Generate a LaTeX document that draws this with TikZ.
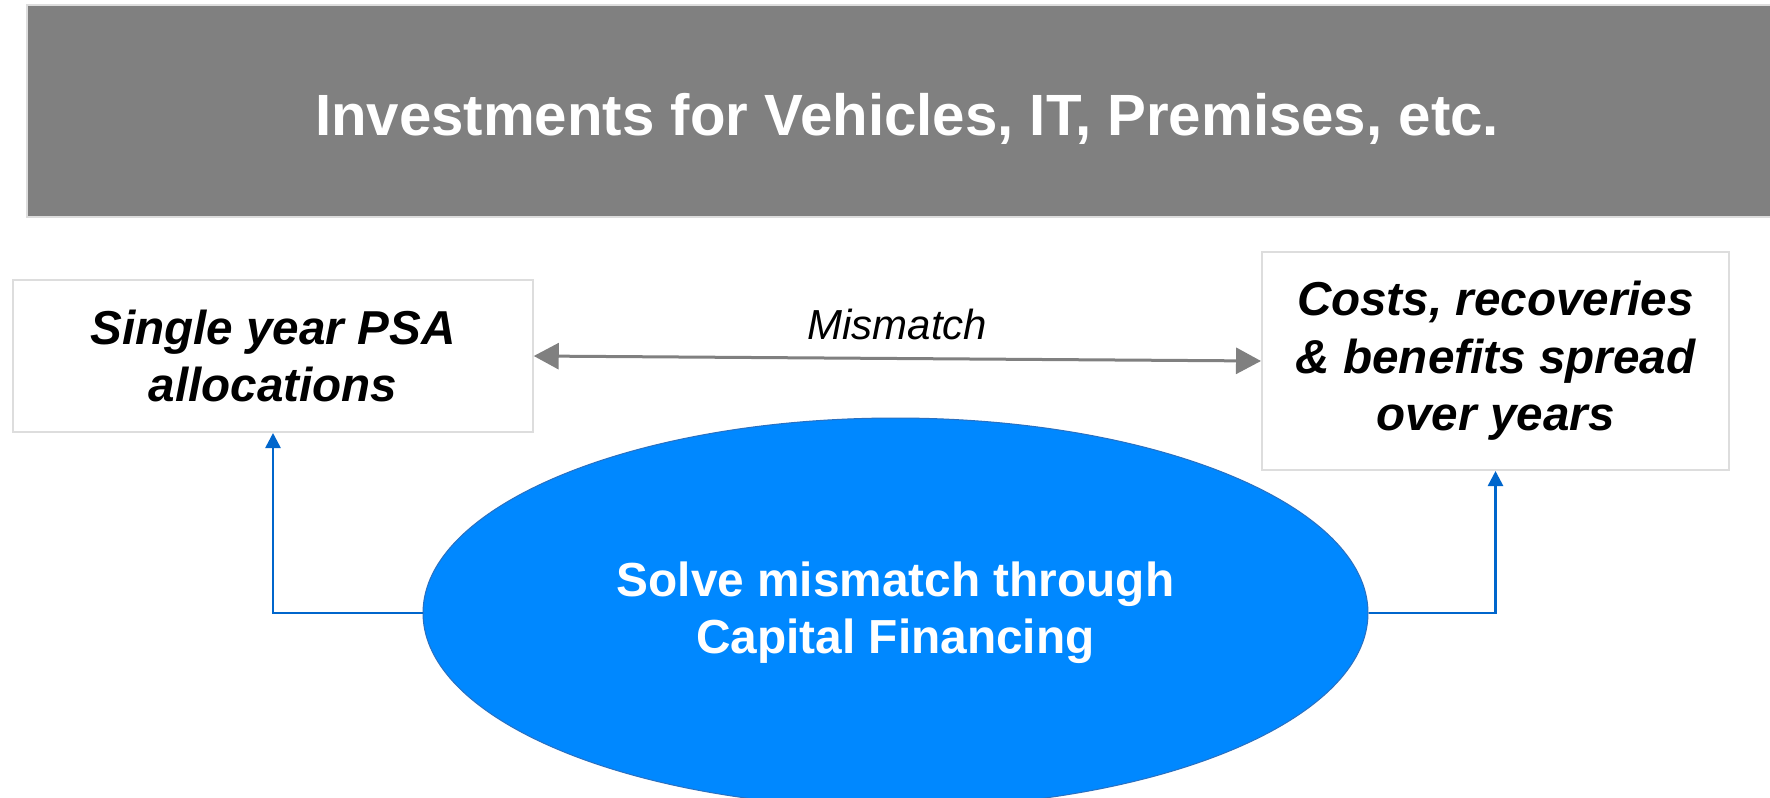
\documentclass[tikz,border=0pt]{standalone}
\usepackage{fontspec}
\setmainfont{Liberation Sans}
\usetikzlibrary{arrows.meta,shapes.geometric}
\definecolor{bannergray}{HTML}{808080}
\definecolor{edgegray}{HTML}{DDDDDD}
\definecolor{ellblue}{HTML}{0088FF}
\definecolor{ellborder}{HTML}{2A70C0}
\definecolor{linkblue}{HTML}{0066CC}
\tikzset{
  bannerbox/.style={rectangle, fill=bannergray, draw=edgegray, line width=1pt,
    minimum width=880pt, minimum height=105.75pt, inner sep=0pt},
  bannertext/.style={text=white, font=\fontsize{29.1}{34}\selectfont\bfseries, inner sep=0pt, anchor=base},
  sidebox/.style={rectangle, draw=edgegray, fill=white, line width=1pt, inner sep=0pt,
    align=center, font=\fontsize{23.8}{28.7}\selectfont\bfseries\itshape},
  solveell/.style={ellipse, fill=ellblue, draw=ellborder, line width=0.5pt, inner sep=0pt,
    minimum width=472.5pt, minimum height=195pt, align=center, text=white,
    font=\fontsize{23.9}{28.5}\selectfont\bfseries},
  mmarrow/.style={draw=bannergray, line width=1.5pt,
    {Triangle[length=12.5pt,width=13pt]}-{Triangle[length=12.5pt,width=13pt]}},
  mmlabel/.style={font=\fontsize{21}{25}\selectfont\itshape, inner sep=0pt, anchor=base},
  link/.style={draw=linkblue, line width=1.3pt, -{Triangle[length=7.5pt,width=7.5pt]}}
}
\begin{document}
\begin{tikzpicture}[x=0.5pt,y=-0.5pt]
\useasboundingbox (0,0) rectangle (1770,797);
\fill[white] (0,0) rectangle (1770,797);
% banner
\node[bannerbox] (banner) at (907,111.25) {};
\node[bannertext] (bannerlabel) at (907,135) {Investments for Vehicles, IT, Premises, etc.};
% side boxes
\node[sidebox, minimum width=259.75pt, minimum height=76pt] (lbox) at (273,356)
  {Single year PSA\\allocations};
\node[sidebox, minimum width=233.5pt, minimum height=109pt] (rbox) at (1495.5,361)
  {Costs, recoveries\\\& benefits spread\\over years};
% mismatch arrow
\draw[mmarrow] (lbox.east) -- node[mmlabel, midway, yshift=9.75pt] {Mismatch} (rbox.west);
% ellipse
\node[solveell] (solve) at (895.5,613) {Solve mismatch through\\Capital Financing};
% connectors
\draw[link] (solve.west) -| (lbox.south);
\draw[link] (solve.east) -| (rbox.south);
\end{tikzpicture}
\end{document}
